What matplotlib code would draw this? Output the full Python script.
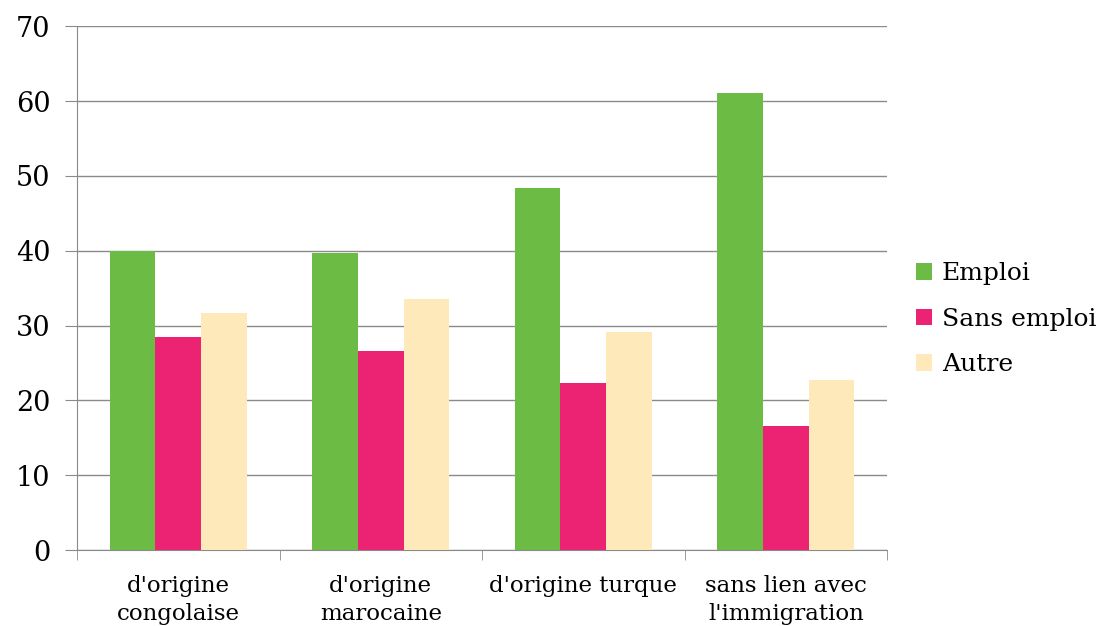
import matplotlib.pyplot as plt
import numpy as np

# données : part (%) par statut, selon l'origine
categories = ["d'origine\ncongolaise", "d'origine\nmarocaine", "d'origine turque", "sans lien avec\nl'immigration"]
emploi = [40.0, 39.7, 48.4, 61.1]
sans_emploi = [28.5, 26.6, 22.3, 16.6]
autre = [31.7, 33.6, 29.2, 22.7]

series = [("Emploi", emploi, "#6bbb44"),
          ("Sans emploi", sans_emploi, "#ec2373"),
          ("Autre", autre, "#fde9ba")]

plt.rcParams['font.family'] = ['DejaVu Serif']

fig = plt.figure(figsize=(11.1, 6.26), dpi=100)
ax = fig.add_axes([0.0694, 0.1214, 0.7297, 0.8366])

x = np.arange(len(categories))
w = 0.225
for i, (name, vals, col) in enumerate(series):
    ax.bar(x + (i - 1) * w, vals, width=w, color=col, label=name, zorder=3)

ax.set_xlim(-0.5, len(categories) - 0.5)
ax.set_ylim(0, 70)
ax.set_yticks(range(0, 71, 10))
ax.yaxis.grid(True, color="#8a8a8a", linewidth=1.0, zorder=0)

# étiquettes au centre, petits traits entre les groupes
ax.set_xticks(x)
ax.set_xticklabels(categories, fontsize=16.5, linespacing=1.35)
ax.tick_params(axis="x", which="major", length=0, pad=18)
ax.set_xticks(np.arange(-0.5, len(categories)), minor=True)
ax.tick_params(axis="x", which="minor", length=7, color="#8a8a8a", direction="out")
ax.tick_params(axis="y", length=9, color="#8a8a8a", labelsize=19.5, pad=10)

for s in ["top", "right"]:
    ax.spines[s].set_visible(False)
for s in ["left", "bottom"]:
    ax.spines[s].set_color("#8a8a8a")

fig.legend(loc="center left", bbox_to_anchor=(0.825, 0.49), frameon=False,
           fontsize=18, handlelength=0.65, handleheight=0.65, handletextpad=0.4,
           labelspacing=0.9, borderpad=0.0, borderaxespad=0.0)

fig.savefig("out.png", dpi=100)
